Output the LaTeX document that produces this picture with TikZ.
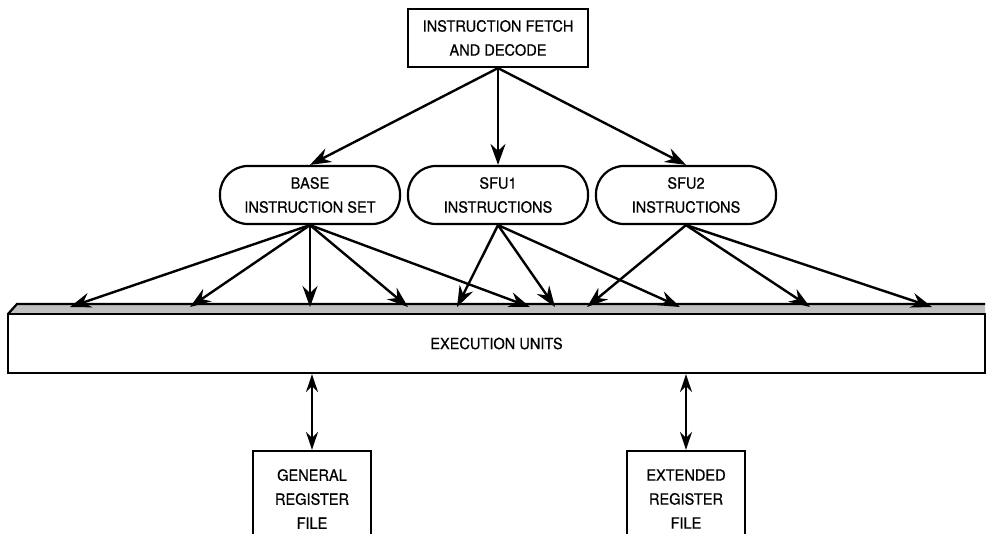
\documentclass[tikz,border=0pt]{standalone}
\usepackage{fontspec}
\setmainfont{TeX Gyre Heros}[FakeBold=0.6,FakeStretch=0.94]
\usetikzlibrary{arrows.meta}
\tikzset{
    unitbox/.style={draw,line width=2.2pt,minimum width=180pt,minimum height=58pt,
        align=center,font=\fontsize{15.5}{24}\selectfont,inner sep=0pt},
    setbox/.style={unitbox,rounded corners=28pt},
    regbox/.style={unitbox,minimum width=118pt,minimum height=96pt},
    arr/.style={line width=2.4pt,-{Stealth[length=21pt,width=15pt,inset=7pt]}},
    darr/.style={line width=2.4pt,{Stealth[length=18pt,width=12pt,inset=6pt]}-{Stealth[length=18pt,width=12pt,inset=6pt]}}
}
\begin{document}
\begin{tikzpicture}[x=1pt,y=-1pt]
    \useasboundingbox (0,0) rectangle (986,534);
    \clip (0,0) rectangle (986,534);
    % fetch and the three instruction sets
    \node[unitbox] (fetch) at (498,38) {INSTRUCTION FETCH\\AND DECODE};
    \node[setbox] (base) at (310,195) {BASE\\INSTRUCTION SET};
    \node[setbox] (sfu1) at (498,195) {SFU1\\INSTRUCTIONS};
    \node[setbox] (sfu2) at (686,195) {SFU2\\INSTRUCTIONS};
    %
    % execution units bar
    \fill[black!25] (8,314) -- (17,304) -- (985,304) -- (985,314) -- cycle;
    \draw[line width=2.2pt] (8,314) -- (17,304) -- (985,304);
    \node[draw,line width=2.2pt,minimum width=977pt,minimum height=59pt,inner sep=0pt,
        font=\fontsize{15.5}{24}\selectfont] (exec) at (496.5,343.5) {EXECUTION UNITS};
    \foreach \n/\x in {b1/70,b2/190,b3/310,b4/408,b5/530,s1/457,s2/555,s3/680,t1/587,t2/810,t3/932}
        \coordinate (\n) at (\x,307);
    %
    % register files
    \node[regbox] (gen) at (312,499) {GENERAL\\REGISTER\\FILE};
    \node[regbox] (ext) at (686,499) {EXTENDED\\REGISTER\\FILE};
    %
    \draw[arr] (fetch.south) -- (base.north);
    \draw[arr] (fetch.south) -- (sfu1.north);
    \draw[arr] (fetch.south) -- (sfu2.north);
    \foreach \t in {b1,b2,b3,b4,b5}
        \draw[arr] (base.south) -- (\t);
    \foreach \t in {s1,s2,s3}
        \draw[arr] (sfu1.south) -- (\t);
    \foreach \t in {t1,t2,t3}
        \draw[arr] (sfu2.south) -- (\t);
    \draw[darr] (exec.south-|gen.north) -- (gen.north);
    \draw[darr] (exec.south-|ext.north) -- (ext.north);
\end{tikzpicture}
\end{document}
